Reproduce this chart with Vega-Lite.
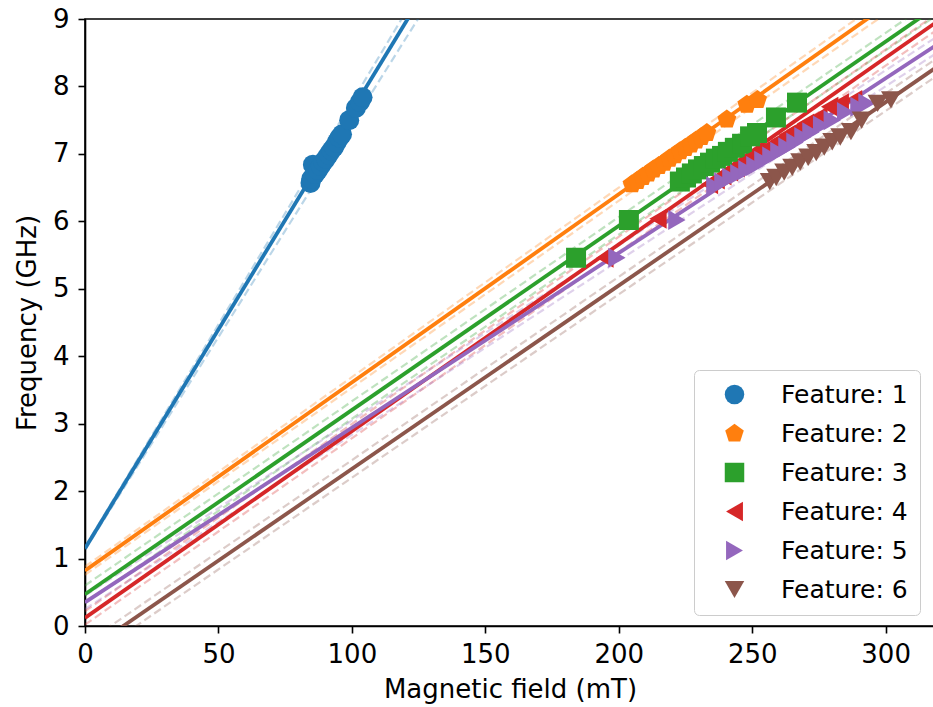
{
  "$schema": "https://vega.github.io/schema/vega-lite/v6.json",
  "width": 850,
  "height": 607,
  "autosize": {"type": "none"},
  "padding": {"left": 85, "top": 19, "right": 0, "bottom": 81},
  "background": "white",
  "config": {
    "font": "DejaVu Sans",
    "view": {"stroke": "black", "strokeWidth": 1.6},
    "axis": {
      "domainColor": "black", "domainWidth": 1.6,
      "tickColor": "black", "tickWidth": 1.6, "tickSize": 7,
      "labelFontSize": 26, "labelColor": "black", "labelFont": "DejaVu Sans",
      "titleFontSize": 26, "titleFontWeight": "normal", "titleColor": "black", "titleFont": "DejaVu Sans",
      "grid": false, "labelFlush": false, "labelOverlap": false
    },
    "legend": {
      "labelFontSize": 25, "labelFont": "DejaVu Sans", "labelColor": "black",
      "symbolSize": 380, "symbolStrokeWidth": 0, "symbolOpacity": 1
    }
  },
  "datasets": {
    "points": [
      {"feature": "Feature: 1", "B": 84.5, "f": 6.57},
      {"feature": "Feature: 1", "B": 84.8, "f": 6.63},
      {"feature": "Feature: 1", "B": 85.4, "f": 6.84},
      {"feature": "Feature: 1", "B": 86.2, "f": 6.70},
      {"feature": "Feature: 1", "B": 87.3, "f": 6.76},
      {"feature": "Feature: 1", "B": 88.3, "f": 6.82},
      {"feature": "Feature: 1", "B": 89.3, "f": 6.88},
      {"feature": "Feature: 1", "B": 90.3, "f": 6.93},
      {"feature": "Feature: 1", "B": 91.3, "f": 6.99},
      {"feature": "Feature: 1", "B": 92.3, "f": 7.05},
      {"feature": "Feature: 1", "B": 93.3, "f": 7.10},
      {"feature": "Feature: 1", "B": 94.3, "f": 7.17},
      {"feature": "Feature: 1", "B": 95.3, "f": 7.24},
      {"feature": "Feature: 1", "B": 96.3, "f": 7.29},
      {"feature": "Feature: 1", "B": 99.0, "f": 7.50},
      {"feature": "Feature: 1", "B": 101.5, "f": 7.68},
      {"feature": "Feature: 1", "B": 103.0, "f": 7.77},
      {"feature": "Feature: 1", "B": 104.0, "f": 7.84},
      {"feature": "Feature: 2", "B": 205.0, "f": 6.55},
      {"feature": "Feature: 2", "B": 207.0, "f": 6.60},
      {"feature": "Feature: 2", "B": 209.0, "f": 6.66},
      {"feature": "Feature: 2", "B": 211.0, "f": 6.71},
      {"feature": "Feature: 2", "B": 213.0, "f": 6.77},
      {"feature": "Feature: 2", "B": 215.0, "f": 6.82},
      {"feature": "Feature: 2", "B": 217.0, "f": 6.87},
      {"feature": "Feature: 2", "B": 219.0, "f": 6.93},
      {"feature": "Feature: 2", "B": 221.0, "f": 6.98},
      {"feature": "Feature: 2", "B": 223.0, "f": 7.04},
      {"feature": "Feature: 2", "B": 225.0, "f": 7.09},
      {"feature": "Feature: 2", "B": 227.0, "f": 7.14},
      {"feature": "Feature: 2", "B": 229.0, "f": 7.20},
      {"feature": "Feature: 2", "B": 231.0, "f": 7.25},
      {"feature": "Feature: 2", "B": 233.0, "f": 7.31},
      {"feature": "Feature: 2", "B": 240.5, "f": 7.51},
      {"feature": "Feature: 2", "B": 248.0, "f": 7.73},
      {"feature": "Feature: 2", "B": 252.0, "f": 7.80},
      {"feature": "Feature: 3", "B": 184.0, "f": 5.46},
      {"feature": "Feature: 3", "B": 203.8, "f": 6.02},
      {"feature": "Feature: 3", "B": 222.9, "f": 6.59},
      {"feature": "Feature: 3", "B": 225.2, "f": 6.65},
      {"feature": "Feature: 3", "B": 227.4, "f": 6.71},
      {"feature": "Feature: 3", "B": 229.7, "f": 6.77},
      {"feature": "Feature: 3", "B": 231.9, "f": 6.82},
      {"feature": "Feature: 3", "B": 234.2, "f": 6.87},
      {"feature": "Feature: 3", "B": 236.4, "f": 6.93},
      {"feature": "Feature: 3", "B": 238.7, "f": 6.97},
      {"feature": "Feature: 3", "B": 240.9, "f": 7.03},
      {"feature": "Feature: 3", "B": 243.5, "f": 7.09},
      {"feature": "Feature: 3", "B": 246.2, "f": 7.15},
      {"feature": "Feature: 3", "B": 249.2, "f": 7.26},
      {"feature": "Feature: 3", "B": 251.8, "f": 7.31},
      {"feature": "Feature: 3", "B": 258.9, "f": 7.54},
      {"feature": "Feature: 3", "B": 266.8, "f": 7.76},
      {"feature": "Feature: 4", "B": 194.8, "f": 5.46},
      {"feature": "Feature: 4", "B": 214.7, "f": 6.04},
      {"feature": "Feature: 4", "B": 234.0, "f": 6.55},
      {"feature": "Feature: 4", "B": 236.5, "f": 6.62},
      {"feature": "Feature: 4", "B": 239.0, "f": 6.68},
      {"feature": "Feature: 4", "B": 241.5, "f": 6.74},
      {"feature": "Feature: 4", "B": 244.0, "f": 6.80},
      {"feature": "Feature: 4", "B": 246.5, "f": 6.86},
      {"feature": "Feature: 4", "B": 249.0, "f": 6.93},
      {"feature": "Feature: 4", "B": 251.5, "f": 7.00},
      {"feature": "Feature: 4", "B": 254.0, "f": 7.05},
      {"feature": "Feature: 4", "B": 257.0, "f": 7.12},
      {"feature": "Feature: 4", "B": 260.0, "f": 7.20},
      {"feature": "Feature: 4", "B": 263.0, "f": 7.28},
      {"feature": "Feature: 4", "B": 266.0, "f": 7.35},
      {"feature": "Feature: 4", "B": 270.0, "f": 7.45},
      {"feature": "Feature: 4", "B": 275.0, "f": 7.55},
      {"feature": "Feature: 4", "B": 279.0, "f": 7.70},
      {"feature": "Feature: 4", "B": 283.0, "f": 7.75},
      {"feature": "Feature: 4", "B": 288.0, "f": 7.80},
      {"feature": "Feature: 5", "B": 199.3, "f": 5.46},
      {"feature": "Feature: 5", "B": 221.8, "f": 6.02},
      {"feature": "Feature: 5", "B": 236.0, "f": 6.52},
      {"feature": "Feature: 5", "B": 239.0, "f": 6.58},
      {"feature": "Feature: 5", "B": 242.0, "f": 6.65},
      {"feature": "Feature: 5", "B": 245.0, "f": 6.70},
      {"feature": "Feature: 5", "B": 248.0, "f": 6.76},
      {"feature": "Feature: 5", "B": 251.0, "f": 6.82},
      {"feature": "Feature: 5", "B": 254.0, "f": 6.90},
      {"feature": "Feature: 5", "B": 257.0, "f": 6.96},
      {"feature": "Feature: 5", "B": 260.0, "f": 7.03},
      {"feature": "Feature: 5", "B": 263.0, "f": 7.10},
      {"feature": "Feature: 5", "B": 266.0, "f": 7.17},
      {"feature": "Feature: 5", "B": 269.0, "f": 7.25},
      {"feature": "Feature: 5", "B": 272.0, "f": 7.32},
      {"feature": "Feature: 5", "B": 276.0, "f": 7.42},
      {"feature": "Feature: 5", "B": 280.0, "f": 7.50},
      {"feature": "Feature: 5", "B": 285.0, "f": 7.62},
      {"feature": "Feature: 5", "B": 290.0, "f": 7.70},
      {"feature": "Feature: 5", "B": 293.0, "f": 7.75},
      {"feature": "Feature: 6", "B": 256.6, "f": 6.59},
      {"feature": "Feature: 6", "B": 259.0, "f": 6.65},
      {"feature": "Feature: 6", "B": 262.0, "f": 6.73},
      {"feature": "Feature: 6", "B": 265.0, "f": 6.80},
      {"feature": "Feature: 6", "B": 268.0, "f": 6.88},
      {"feature": "Feature: 6", "B": 271.0, "f": 6.95},
      {"feature": "Feature: 6", "B": 274.0, "f": 7.02},
      {"feature": "Feature: 6", "B": 277.0, "f": 7.10},
      {"feature": "Feature: 6", "B": 280.0, "f": 7.18},
      {"feature": "Feature: 6", "B": 283.0, "f": 7.25},
      {"feature": "Feature: 6", "B": 287.0, "f": 7.33},
      {"feature": "Feature: 6", "B": 291.0, "f": 7.50},
      {"feature": "Feature: 6", "B": 297.0, "f": 7.75},
      {"feature": "Feature: 6", "B": 302.0, "f": 7.80}
    ],
    "lines": [
      {"feature": "Feature: 1", "line": "1fit", "kind": "fit", "B": 0, "f": 1.15},
      {"feature": "Feature: 1", "line": "1fit", "kind": "fit", "B": 130, "f": 9.59},
      {"feature": "Feature: 1", "line": "1hi", "kind": "band", "B": 0, "f": 1.17},
      {"feature": "Feature: 1", "line": "1hi", "kind": "band", "B": 130, "f": 9.75},
      {"feature": "Feature: 1", "line": "1lo", "kind": "band", "B": 0, "f": 1.13},
      {"feature": "Feature: 1", "line": "1lo", "kind": "band", "B": 130, "f": 9.33},
      {"feature": "Feature: 2", "line": "2fit", "kind": "fit", "B": 0, "f": 0.82},
      {"feature": "Feature: 2", "line": "2fit", "kind": "fit", "B": 318.5, "f": 9.71},
      {"feature": "Feature: 2", "line": "2hi", "kind": "band", "B": 0, "f": 0.88},
      {"feature": "Feature: 2", "line": "2hi", "kind": "band", "B": 318.5, "f": 9.83},
      {"feature": "Feature: 2", "line": "2lo", "kind": "band", "B": 0, "f": 0.76},
      {"feature": "Feature: 2", "line": "2lo", "kind": "band", "B": 318.5, "f": 9.59},
      {"feature": "Feature: 3", "line": "3fit", "kind": "fit", "B": 0, "f": 0.47},
      {"feature": "Feature: 3", "line": "3fit", "kind": "fit", "B": 318.5, "f": 9.17},
      {"feature": "Feature: 3", "line": "3hi", "kind": "band", "B": 0, "f": 0.60},
      {"feature": "Feature: 3", "line": "3hi", "kind": "band", "B": 318.5, "f": 9.30},
      {"feature": "Feature: 3", "line": "3lo", "kind": "band", "B": 0, "f": 0.34},
      {"feature": "Feature: 3", "line": "3lo", "kind": "band", "B": 318.5, "f": 9.04},
      {"feature": "Feature: 4", "line": "4fit", "kind": "fit", "B": 0, "f": 0.12},
      {"feature": "Feature: 4", "line": "4fit", "kind": "fit", "B": 318.5, "f": 8.94},
      {"feature": "Feature: 4", "line": "4hi", "kind": "band", "B": 0, "f": 0.22},
      {"feature": "Feature: 4", "line": "4hi", "kind": "band", "B": 318.5, "f": 9.06},
      {"feature": "Feature: 4", "line": "4lo", "kind": "band", "B": 0, "f": 0.02},
      {"feature": "Feature: 4", "line": "4lo", "kind": "band", "B": 318.5, "f": 8.82},
      {"feature": "Feature: 5", "line": "5fit", "kind": "fit", "B": 0, "f": 0.35},
      {"feature": "Feature: 5", "line": "5fit", "kind": "fit", "B": 318.5, "f": 8.60},
      {"feature": "Feature: 5", "line": "5hi", "kind": "band", "B": 0, "f": 0.45},
      {"feature": "Feature: 5", "line": "5hi", "kind": "band", "B": 318.5, "f": 8.72},
      {"feature": "Feature: 5", "line": "5lo", "kind": "band", "B": 0, "f": 0.25},
      {"feature": "Feature: 5", "line": "5lo", "kind": "band", "B": 318.5, "f": 8.48},
      {"feature": "Feature: 6", "line": "6fit", "kind": "fit", "B": 0, "f": -0.39},
      {"feature": "Feature: 6", "line": "6fit", "kind": "fit", "B": 318.5, "f": 8.27},
      {"feature": "Feature: 6", "line": "6hi", "kind": "band", "B": 0, "f": -0.26},
      {"feature": "Feature: 6", "line": "6hi", "kind": "band", "B": 318.5, "f": 8.40},
      {"feature": "Feature: 6", "line": "6lo", "kind": "band", "B": 0, "f": -0.52},
      {"feature": "Feature: 6", "line": "6lo", "kind": "band", "B": 318.5, "f": 8.14}
    ]
  },
  "encoding": {
    "x": {
      "field": "B", "type": "quantitative",
      "scale": {"domain": [0, 318.5], "nice": false, "zero": false},
      "axis": {"title": "Magnetic field (mT)", "values": [0, 50, 100, 150, 200, 250, 300], "titlePadding": 9, "labelPadding": 8}
    },
    "y": {
      "field": "f", "type": "quantitative",
      "scale": {"domain": [0, 9], "nice": false, "zero": false},
      "axis": {"title": "Frequency (GHz)", "values": [0, 1, 2, 3, 4, 5, 6, 7, 8, 9], "titlePadding": 12, "labelPadding": 9}
    },
    "color": {
      "field": "feature", "type": "nominal",
      "scale": {
        "domain": ["Feature: 1", "Feature: 2", "Feature: 3", "Feature: 4", "Feature: 5", "Feature: 6"],
        "range": ["#1f77b4", "#ff7f0e", "#2ca02c", "#d62728", "#9467bd", "#8c564b"]
      },
      "legend": {
        "title": null, "orient": "none", "legendX": 609, "legendY": 351,
        "padding": 12, "strokeColor": "#cccccc", "cornerRadius": 5,
        "fillColor": "rgba(255,255,255,0.8)", "symbolOffset": 16,
        "labelOffset": 34, "rowPadding": 13, "symbolStrokeWidth": 0, "symbolOpacity": 1
      }
    }
  },
  "layer": [
    {
      "data": {"name": "lines"},
      "transform": [{"filter": "datum.kind === 'band'"}],
      "mark": {"type": "line", "clip": true, "strokeWidth": 2.2, "strokeDash": [8, 4], "opacity": 0.3},
      "encoding": {"detail": {"field": "line"}}
    },
    {
      "data": {"name": "lines"},
      "transform": [{"filter": "datum.kind === 'fit'"}],
      "mark": {"type": "line", "clip": true, "strokeWidth": 3.8},
      "encoding": {"detail": {"field": "line"}}
    },
    {
      "data": {"name": "points"},
      "mark": {"type": "point", "filled": true, "opacity": 1, "size": 400, "strokeWidth": 0, "clip": true},
      "encoding": {
        "shape": {
          "field": "feature", "type": "nominal",
          "scale": {
            "domain": ["Feature: 1", "Feature: 2", "Feature: 3", "Feature: 4", "Feature: 5", "Feature: 6"],
            "range": ["circle", "M0,-1L0.951,-0.309L0.588,0.809L-0.588,0.809L-0.951,-0.309Z", "square", "triangle-left", "triangle-right", "triangle-down"]
          },
          "legend": {
            "title": null, "orient": "none", "legendX": 609, "legendY": 351,
            "padding": 12, "strokeColor": "#cccccc", "cornerRadius": 5,
            "fillColor": "rgba(255,255,255,0.8)", "symbolOffset": 16,
            "labelOffset": 34, "rowPadding": 13, "symbolStrokeWidth": 0, "symbolOpacity": 1
          }
        }
      }
    }
  ]
}
